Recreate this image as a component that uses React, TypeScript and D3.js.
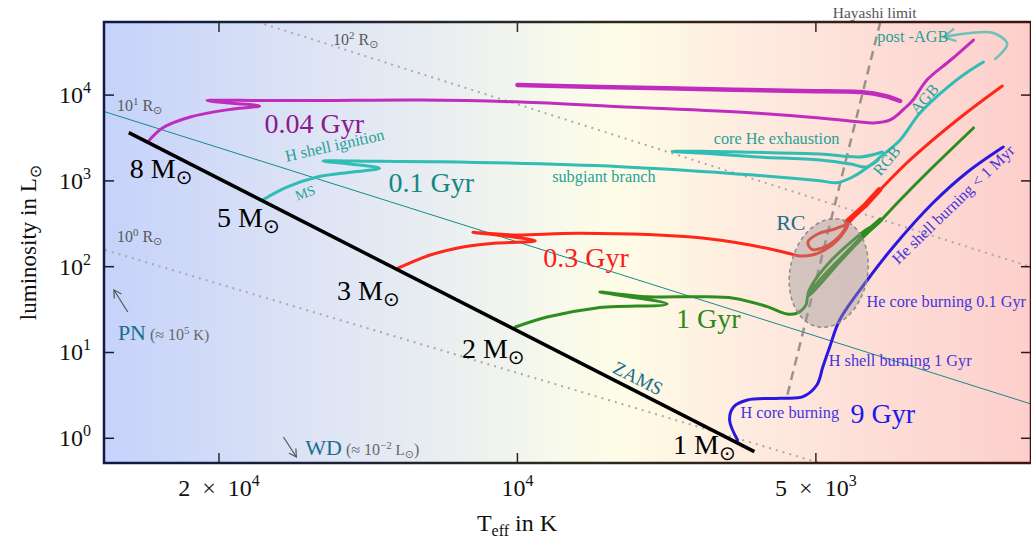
import React from 'react';
import * as d3 from 'd3';

const W = 1031, H = 541;
const PLOT = { left: 104, right: 1031, top: 22, bottom: 463 };

// axis domains as log10 values
const LOG_T_DOMAIN: [number, number] = [4.417, 3.482];
const LOG_L_DOMAIN: [number, number] = [-0.288, 4.852];

const T_TICKS = [20000, 10000, 5000];
const T_TICK_LABELS: [string, string][] = [['2\u2002×\u200210', '4'], ['10', '4'], ['5\u2002×\u200210', '3']];
const L_TICKS = [1, 10, 100, 1000, 10000];
const L_TICK_EXP = ['0', '1', '2', '3', '4'];

type P = [number, number]; // [log10 Teff/K, log10 L/Lsun]

const ZAMS: P[] = [[4.392, 3.562], [3.761, -0.156]];

const TRACK_8MSUN: P[] = [
  [4.372, 3.465], [4.358, 3.617], [4.330, 3.745], [4.287, 3.838], [4.260, 3.873], [4.290, 3.908],
  [4.313, 3.937], [4.260, 3.937], [4.199, 3.937], [4.098, 3.943], [3.997, 3.920], [3.896, 3.865],
  [3.762, 3.791], [3.695, 3.733], [3.657, 3.690], [3.641, 3.675], [3.624, 3.710], [3.609, 3.850],
  [3.601, 3.943], [3.587, 4.176], [3.563, 4.409], [3.540, 4.642],
];
const LOOP_8MSUN: P[] = [
  [4.000, 4.118], [3.917, 4.094], [3.816, 4.071], [3.715, 4.048], [3.654, 4.036], [3.629, 3.990], [3.614, 3.931],
];

const TRACK_5MSUN: P[] = [
  [4.257, 2.777], [4.232, 2.929], [4.202, 3.045], [4.166, 3.104], [4.139, 3.147], [4.169, 3.197],
  [4.196, 3.232], [4.139, 3.228], [4.078, 3.224], [3.896, 3.166], [3.762, 3.069], [3.695, 3.002],
  [3.678, 2.979], [3.662, 3.045], [3.641, 3.209], [3.634, 3.279], [3.614, 3.477], [3.594, 3.791],
  [3.566, 4.094], [3.546, 4.269], [3.530, 4.386],
];
const LOOP_5MSUN: P[] = [
  [3.632, 3.337], [3.654, 3.279], [3.695, 3.314], [3.762, 3.333], [3.816, 3.345], [3.844, 3.343],
  [3.816, 3.325], [3.762, 3.282], [3.695, 3.244], [3.664, 3.197], [3.648, 3.162], [3.636, 3.244],
];

const TRACK_3MSUN: P[] = [
  [4.120, 1.985], [4.088, 2.136], [4.055, 2.230], [4.021, 2.276], [3.982, 2.300], [4.012, 2.358],
  [4.045, 2.401], [4.004, 2.370], [3.937, 2.389], [3.816, 2.338], [3.765, 2.253], [3.728, 2.160],
  [3.715, 2.125], [3.703, 2.136], [3.690, 2.195], [3.677, 2.311], [3.667, 2.486], [3.680, 2.439],
  [3.697, 2.381], [3.707, 2.288], [3.703, 2.202], [3.690, 2.230], [3.675, 2.358], [3.665, 2.521],
  [3.644, 2.777], [3.604, 3.244], [3.554, 3.733], [3.511, 4.106],
];
const THICK_3MSUN: P[] = [[3.668, 2.521], [3.650, 2.707], [3.635, 2.894]];

const TRACK_2MSUN: P[] = [
  [4.002, 1.297], [3.970, 1.414], [3.920, 1.519], [3.849, 1.565], [3.917, 1.705], [3.869, 1.650],
  [3.816, 1.650], [3.782, 1.632], [3.748, 1.534], [3.728, 1.449], [3.718, 1.460], [3.709, 1.554],
  [3.707, 1.659], [3.695, 1.845], [3.669, 2.160], [3.644, 2.463], [3.659, 2.334], [3.685, 2.055],
  [3.703, 1.787], [3.707, 1.659], [3.700, 1.728], [3.675, 2.055], [3.649, 2.370], [3.636, 2.509],
  [3.614, 2.777], [3.584, 3.127], [3.540, 3.617],
];
const THICK_2MSUN: P[] = [[3.648, 2.404], [3.634, 2.544]];

const TRACK_1MSUN: P[] = [
  [3.778, -0.020], [3.786, 0.213], [3.782, 0.365], [3.768, 0.446], [3.735, 0.466], [3.712, 0.485],
  [3.698, 0.621], [3.692, 0.831], [3.685, 1.064], [3.675, 1.379], [3.647, 1.845], [3.621, 2.230],
  [3.581, 2.742], [3.546, 3.104], [3.510, 3.395],
];

const POST_AGB_ARROW: P[] = [[3.518, 4.421], [3.506, 4.596], [3.520, 4.724], [3.543, 4.724], [3.570, 4.677]];
const PN_ARROW: P[] = [[4.393, 1.472], [4.407, 1.728]];
const WD_ARROW: P[] = [[4.236, 0.015], [4.223, -0.218]];

const RADIUS_1: P[] = [[4.416, 2.195], [3.695, -0.288]];
const RADIUS_10: P[] = [[4.417, 3.809], [3.482, 0.400]];
const RADIUS_100: P[] = [[4.262, 4.852], [3.482, 1.997]];
const HAYASHI: P[] = [[3.634, 4.852], [3.729, 0.446]];

const RC = { t: 3.686, l: 1.927, dt: 0.039, dl: 0.64, angle: 12 };

const MASS_LABELS = [
  { m: '8', t: 4.391, l: 3.034 },
  { m: '5', t: 4.303, l: 2.463 },
  { m: '3', t: 4.182, l: 1.612 },
  { m: '2', t: 4.056, l: 0.936 },
  { m: '1', t: 3.843, l: -0.183 },
];

const AGE_LABELS = [
  { text: '0.04 Gyr', t: 4.255, l: 3.558, color: '#8c1a8c' },
  { text: '0.1 Gyr', t: 4.130, l: 2.871, color: '#128884' },
  { text: '0.3 Gyr', t: 3.974, l: 2.000, color: '#ff1a1a' },
  { text: '1 Gyr', t: 3.840, l: 1.286, color: '#2a8a1a' },
  { text: '9 Gyr', t: 3.664, l: 0.178, color: '#1a1aee' },
];

const TEAL_TXT = '#2a9f98';
const BLUE_TXT = '#4634dc';
const PHASE_LABELS = [
  { text: 'H shell ignition', t: 4.233, l: 3.224, rot: -12.6, color: TEAL_TXT, size: 16.3 },
  { text: 'MS', t: 4.222, l: 2.769, rot: -20, color: TEAL_TXT, size: 14 },
  { text: 'subgiant branch', t: 3.965, l: 2.987, rot: 0, color: TEAL_TXT, size: 16.3 },
  { text: 'core He exhaustion', t: 3.802, l: 3.430, rot: 0, color: TEAL_TXT, size: 16.3 },
  { text: 'RGB', t: 3.634, l: 3.049, rot: -50, color: TEAL_TXT, size: 16 },
  { text: 'AGB', t: 3.597, l: 3.768, rot: -48, color: TEAL_TXT, size: 16 },
  { text: 'post -AGB', t: 3.637, l: 4.619, rot: 0, color: TEAL_TXT, size: 16.3 },
  { text: 'He core burning 0.1 Gyr', t: 3.648, l: 1.530, rot: 0, color: BLUE_TXT, size: 16.3 },
  { text: 'H shell burning 1 Gyr', t: 3.686, l: 0.843, rot: 0, color: BLUE_TXT, size: 16.3 },
  { text: 'H core burning', t: 3.775, l: 0.237, rot: 0, color: BLUE_TXT, size: 16.3 },
  { text: 'He shell burning < 1 Myr', t: 3.616, l: 2.020, rot: -44, color: BLUE_TXT, size: 16 },
];

const RADIUS_LABELS = [
  { exp: '2', t: 4.186, l: 4.584 },
  { exp: '1', t: 4.404, l: 3.815 },
  { exp: '0', t: 4.404, l: 2.288 },
];

const TRACK_COLORS = {
  m8: '#c02cbd',
  m5: '#2fbdb4',
  m3: '#ff2818',
  m2: '#2f8c1e',
  m1: '#2a18e0',
};

const SERIF = '"Liberation Serif", "DejaVu Serif", serif';
const SUN = '⊙';

export default function App() {
  const x = d3.scaleLinear().domain(LOG_T_DOMAIN).range([PLOT.left, PLOT.right]);
  const y = d3.scaleLinear().domain(LOG_L_DOMAIN).range([PLOT.bottom, PLOT.top]);
  const smooth = d3.line<P>().x(d => x(d[0])).y(d => y(d[1])).curve(d3.curveCatmullRom.alpha(0.5));
  const straight = d3.line<P>().x(d => x(d[0])).y(d => y(d[1]));

  const pw = PLOT.right - PLOT.left, ph = PLOT.bottom - PLOT.top;
  const rcx = x(RC.t), rcy = y(RC.l);
  const rrx = Math.abs(x(RC.t + RC.dt) - rcx), rry = Math.abs(y(RC.l + RC.dl) - rcy);

  const trackStyle = (c: string, w = 3) => ({ fill: 'none', stroke: c, strokeWidth: w, strokeLinejoin: 'round' as const, strokeLinecap: 'round' as const });
  const grey = '#666';

  return (
    <div style={{ position: 'fixed', left: 0, top: 0, width: W, height: H, background: '#fff' }}>
      <svg width={W} height={H} style={{ display: 'block' }} fontFamily={SERIF}>
        <defs>
          <linearGradient id="bg" x1="0" x2="1" y1="0" y2="0">
            <stop offset="0" stopColor="#c5d2fa" />
            <stop offset="0.2" stopColor="#dbe2f6" />
            <stop offset="0.38" stopColor="#ebeff0" />
            <stop offset="0.5" stopColor="#f8faea" />
            <stop offset="0.56" stopColor="#fefce6" />
            <stop offset="0.7" stopColor="#feebdf" />
            <stop offset="0.85" stopColor="#fddcd6" />
            <stop offset="1" stopColor="#fdcfcb" />
          </linearGradient>
          <linearGradient id="frame" gradientUnits="userSpaceOnUse" x1={PLOT.left} x2={PLOT.right} y1="0" y2="0">
            <stop offset="0" stopColor="#0d1a4a" />
            <stop offset="0.5" stopColor="#2b2b22" />
            <stop offset="1" stopColor="#3e1410" />
          </linearGradient>
          <clipPath id="plotclip">
            <rect x={PLOT.left} y={PLOT.top} width={pw} height={ph} />
          </clipPath>
          <marker id="arrowV" viewBox="-12 -8 14 16" refX="0" refY="0" markerWidth="14" markerHeight="16" markerUnits="userSpaceOnUse" orient="auto">
            <path d="M-11,-6 L0,0 L-11,6" fill="none" stroke="#6cc2b8" strokeWidth="2.2" strokeLinecap="round" />
          </marker>
          <marker id="arrowG" viewBox="-8 -5 9 10" refX="0" refY="0" markerWidth="9" markerHeight="10" markerUnits="userSpaceOnUse" orient="auto">
            <path d="M-7,-4 L0,0 L-7,4" fill="none" stroke="#555" strokeWidth="1.2" strokeLinecap="round" />
          </marker>
        </defs>

        <rect x={PLOT.left} y={PLOT.top} width={pw} height={ph} fill="url(#bg)" />

        <g clipPath="url(#plotclip)">
          <path d={straight(RADIUS_1)!} stroke="#aaaaaa" strokeWidth={2} strokeDasharray="2,5" fill="none" />
          <path d={straight(RADIUS_100)!} stroke="#aaaaaa" strokeWidth={2} strokeDasharray="2,5" fill="none" />
          <path d={straight(RADIUS_10)!} stroke="#168a8a" strokeWidth={1} fill="none" />
          <path d={straight(HAYASHI)!} stroke="#8e8888" strokeWidth={2.5} strokeDasharray="9,6" fill="none" opacity={0.9} />

          <path d={smooth(LOOP_8MSUN)!} {...trackStyle(TRACK_COLORS.m8, 4.5)} />
          <path d={smooth(TRACK_8MSUN)!} {...trackStyle(TRACK_COLORS.m8, 3)} />
          <path d={smooth(LOOP_5MSUN)!} {...trackStyle(TRACK_COLORS.m5, 3)} />
          <path d={smooth(TRACK_5MSUN)!} {...trackStyle(TRACK_COLORS.m5, 3)} />
          <path d={smooth(TRACK_3MSUN)!} {...trackStyle(TRACK_COLORS.m3, 3)} />
          <path d={straight(THICK_3MSUN)!} {...trackStyle(TRACK_COLORS.m3, 5.5)} />
          <path d={smooth(TRACK_2MSUN)!} {...trackStyle(TRACK_COLORS.m2, 3)} />
          <path d={straight(THICK_2MSUN)!} {...trackStyle(TRACK_COLORS.m2, 5)} />
          <path d={smooth(TRACK_1MSUN)!} {...trackStyle(TRACK_COLORS.m1, 3)} />

          <path d={smooth(POST_AGB_ARROW)!} fill="none" stroke="#6cc2b8" strokeWidth={2.5} strokeLinecap="round" markerEnd="url(#arrowV)" />
          <path d={straight(PN_ARROW)!} fill="none" stroke="#555" strokeWidth={1.2} markerEnd="url(#arrowG)" />
          <path d={straight(WD_ARROW)!} fill="none" stroke="#555" strokeWidth={1.2} markerEnd="url(#arrowG)" />

          <path d={straight(ZAMS)!} stroke="#000" strokeWidth={3.5} fill="none" />

          <ellipse cx={rcx} cy={rcy} rx={rrx} ry={rry} transform={`rotate(${RC.angle} ${rcx} ${rcy})`}
            fill="#9a9696" fillOpacity={0.42} stroke="#8d8a8a" strokeWidth={1.5} strokeDasharray="4,3" />
        </g>

        {/* radius labels */}
        {RADIUS_LABELS.map((r, i) => (
          <text key={'r' + i} x={x(r.t)} y={y(r.l)} fontSize={16} fill="#5a5a5a">
            10<tspan dy={-6} fontSize={11}>{r.exp}</tspan><tspan dy={6}> R</tspan><tspan dy={3} fontSize={11} fontFamily="DejaVu Sans">{SUN}</tspan>
          </text>
        ))}

        {/* phase annotations */}
        {PHASE_LABELS.map((a, i) => (
          <text key={'a' + i} x={x(a.t)} y={y(a.l)} fontSize={a.size} fill={a.color}
            transform={a.rot ? `rotate(${a.rot} ${x(a.t)} ${y(a.l)})` : undefined}>{a.text}</text>
        ))}

        {/* age labels */}
        {AGE_LABELS.map((a, i) => (
          <text key={'g' + i} x={x(a.t)} y={y(a.l)} fontSize={28} fill={a.color}>{a.text}</text>
        ))}

        {/* mass labels */}
        {MASS_LABELS.map((m, i) => (
          <text key={'m' + i} x={x(m.t)} y={y(m.l)} fontSize={28} fill="#000">
            {m.m} M<tspan dy={6} fontSize={20} fontFamily="DejaVu Sans">{SUN}</tspan>
          </text>
        ))}

        {/* RC, ZAMS, PN, WD */}
        <text x={x(3.739)} y={y(2.428)} fontSize={22} fill="#1a6e90">RC</text>
        <text x={x(3.905)} y={y(0.773)} fontSize={19} fill="#1a6e90"
          transform={`rotate(27 ${x(3.905)} ${y(0.773)})`}>ZAMS</text>
        <text x={x(4.403)} y={y(1.146)} fontSize={22} fill="#1a6e90">PN<tspan fontSize={16} fill={grey}> (≈ 10</tspan><tspan dy={-6} fontSize={11} fill={grey}>5</tspan><tspan dy={6} fontSize={15} fill={grey}> K)</tspan></text>
        <text x={x(4.214)} y={y(-0.195)} fontSize={22} fill="#1a6e90">WD<tspan fontSize={16} fill={grey}> (≈ 10</tspan><tspan dy={-6} fontSize={11} fill={grey}>−2</tspan><tspan dy={6} fontSize={15} fill={grey}> L</tspan><tspan dy={3} fontSize={11} fill={grey} fontFamily="DejaVu Sans">{SUN}</tspan><tspan dy={-3} fontSize={16} fill={grey}>)</tspan></text>
        <text x={x(3.682)} y={y(4.899)} fontSize={15.5} fill="#555">Hayashi limit</text>

        {/* frame */}
        <rect x={PLOT.left} y={PLOT.top} width={pw} height={ph} fill="none" stroke="url(#frame)" strokeWidth={2.5} />

        {/* ticks */}
        {L_TICKS.map((v, i) => {
          const yy = y(Math.log10(v));
          return (
            <g key={'ly' + i}>
              <line x1={PLOT.left} x2={PLOT.left + 10} y1={yy} y2={yy} stroke="#1a1a30" strokeWidth={1.5} />
              <line x1={PLOT.right} x2={PLOT.right - 10} y1={yy} y2={yy} stroke="#301818" strokeWidth={1.5} />
              <text x={91} y={yy + 8} textAnchor="end" fontSize={24} fill="#111">10<tspan dy={-10} fontSize={16}>{L_TICK_EXP[i]}</tspan></text>
            </g>
          );
        })}
        {T_TICKS.map((v, i) => {
          const xx = x(Math.log10(v));
          return (
            <g key={'tx' + i}>
              <line x1={xx} x2={xx} y1={PLOT.bottom} y2={PLOT.bottom - 10} stroke="#2a2a20" strokeWidth={1.5} />
              <line x1={xx} x2={xx} y1={PLOT.top} y2={PLOT.top + 10} stroke="#2a2a20" strokeWidth={1.5} />
              <text x={xx} y={496} textAnchor="middle" fontSize={24} fill="#111">{T_TICK_LABELS[i][0]}<tspan dy={-10} fontSize={16}>{T_TICK_LABELS[i][1]}</tspan></text>
            </g>
          );
        })}

        {/* axis titles */}
        <text x={517} y={531} textAnchor="middle" fontSize={24} fill="#111">T<tspan dy={5} fontSize={16}>eff</tspan><tspan dy={-5}> in K</tspan></text>
        <text transform={`translate(36 ${(PLOT.top + PLOT.bottom) / 2}) rotate(-90)`} textAnchor="middle" fontSize={23} fill="#111">
          luminosity in L<tspan dy={5} fontSize={16} fontFamily="DejaVu Sans">{SUN}</tspan>
        </text>
      </svg>
    </div>
  );
}
